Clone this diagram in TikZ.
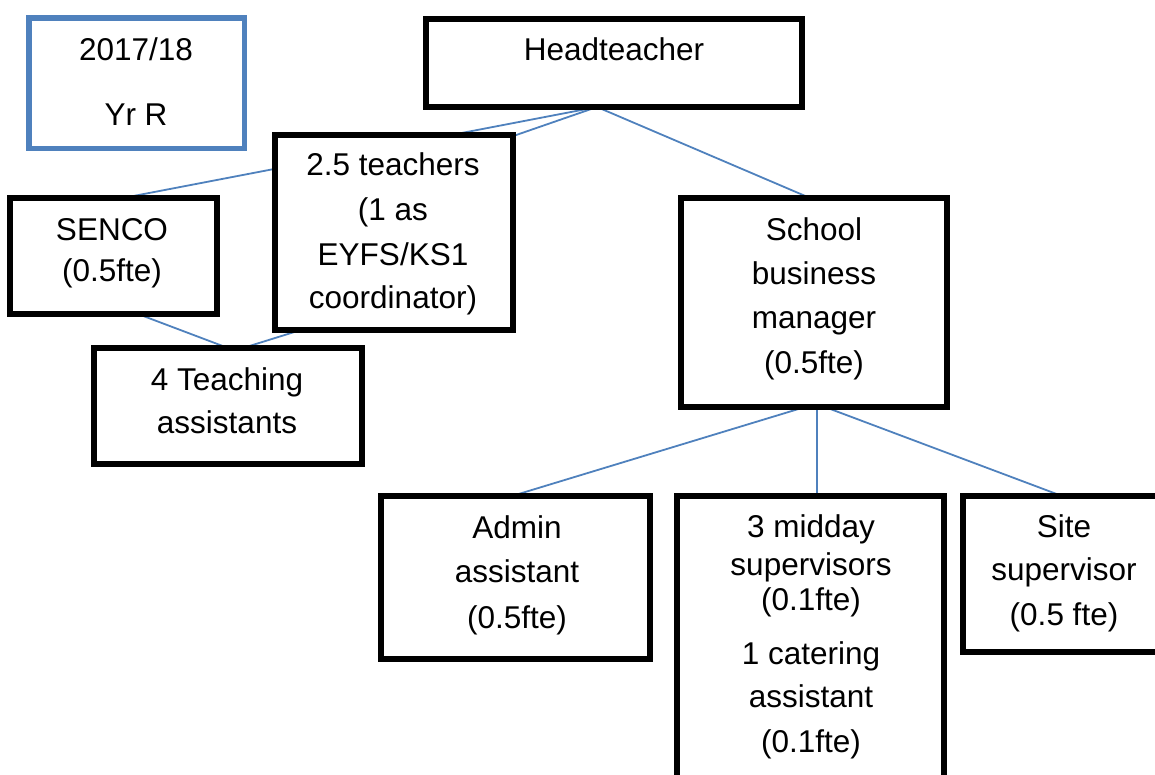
\documentclass[tikz,border=0pt]{standalone}
\usepackage{fontspec}
\setmainfont{Liberation Sans}
\usetikzlibrary{backgrounds}
\definecolor{orgblue}{RGB}{79,129,189}
\begin{document}
\begin{tikzpicture}[x=1pt,y=-1pt,
  box/.style={draw=black,line width=6pt,fill=white,inner sep=0pt,outer sep=0pt},
  yearbox/.style={draw=orgblue,line width=5.5pt,fill=white,inner sep=0pt,outer sep=0pt},
  txt/.style={anchor=base,inner sep=0pt,font=\fontsize{31.5}{38}\selectfont},
  conn/.style={draw=orgblue,line width=1.8pt}]
\useasboundingbox (0,0) rectangle (1155,774);
\clip (0,0) rectangle (1155,774);

% boxes
\node[yearbox,minimum width=215.5pt,minimum height=130.5pt] (year)  at (136.5,83) {};
\node[box,minimum width=376pt,minimum height=88pt]  (head)  at (614,63) {};
\node[box,minimum width=238pt,minimum height=195pt] (teach) at (394,232.5) {};
\node[box,minimum width=207pt,minimum height=116pt] (senco) at (113.5,256) {};
\node[box,minimum width=268pt,minimum height=116pt] (ta)    at (228,406) {};
\node[box,minimum width=266pt,minimum height=209pt] (sbm)   at (814,302.5) {};
\node[box,minimum width=269pt,minimum height=163pt] (admin) at (515.5,577.5) {};
\node[box,minimum width=267pt,minimum height=321pt] (mid)   at (810.5,656.5) {};
\node[box,minimum width=234pt,minimum height=156pt] (site)  at (1080,574) {};

% free ends of connectors that run under a box
\coordinate (hs)   at ([xshift=-17pt]head.south);
\coordinate (tin)  at (470,151);
\coordinate (tout) at (320,324);

% connectors, behind the boxes
\begin{scope}[on background layer]
\draw[conn] (hs) -- ([xshift=9.5pt]senco.north);
\draw[conn] (hs) -- (tin);
\draw[conn] (hs) -- ([xshift=-4pt]sbm.north);
\draw[conn] ([xshift=24.5pt]senco.south) -- (ta.north);
\draw[conn] (tout) -- ([xshift=15pt]ta.north);
\draw[conn] ([xshift=-9pt]sbm.south) -- ([xshift=-3.5pt]admin.north);
\draw[conn] ([xshift=3pt]sbm.south) -- ([xshift=3pt]sbm.south |- mid.north);
\draw[conn] ([xshift=11pt]sbm.south) -- ([xshift=-18pt]site.north);
\end{scope}

% texts
\node[txt] (yr1) at (136,60) {2017/18};
\node[txt] (yr2) at (136,125) {Yr R};
\node[txt] (ht1) at (614,60) {Headteacher};
\node[txt] (tc1) at (393,175) {2.5 teachers};
\node[txt] (tc2) at (393,220) {(1 as};
\node[txt] (tc3) at (393,265) {EYFS/KS1};
\node[txt] (tc4) at (393,308) {coordinator)};
\node[txt] (sc1) at (112,240) {SENCO};
\node[txt] (sc2) at (112,281) {(0.5fte)};
\node[txt] (ta1) at (227,390) {4 Teaching};
\node[txt] (ta2) at (227,433) {assistants};
\node[txt] (sb1) at (814,240) {School};
\node[txt] (sb2) at (814,284) {business};
\node[txt] (sb3) at (814,328) {manager};
\node[txt] (sb4) at (814,373) {(0.5fte)};
\node[txt] (ad1) at (517,538) {Admin};
\node[txt] (ad2) at (517,582) {assistant};
\node[txt] (ad3) at (517,628) {(0.5fte)};
\node[txt] (md1) at (811,537) {3 midday};
\node[txt] (md2) at (811,575) {supervisors};
\node[txt] (md3) at (811,610) {(0.1fte)};
\node[txt] (md4) at (811,664) {1 catering};
\node[txt] (md5) at (811,707) {assistant};
\node[txt] (md6) at (811,752) {(0.1fte)};
\node[txt] (st1) at (1064,537) {Site};
\node[txt] (st2) at (1064,580) {supervisor};
\node[txt] (st3) at (1064,625) {(0.5 fte)};
\end{tikzpicture}
\end{document}
